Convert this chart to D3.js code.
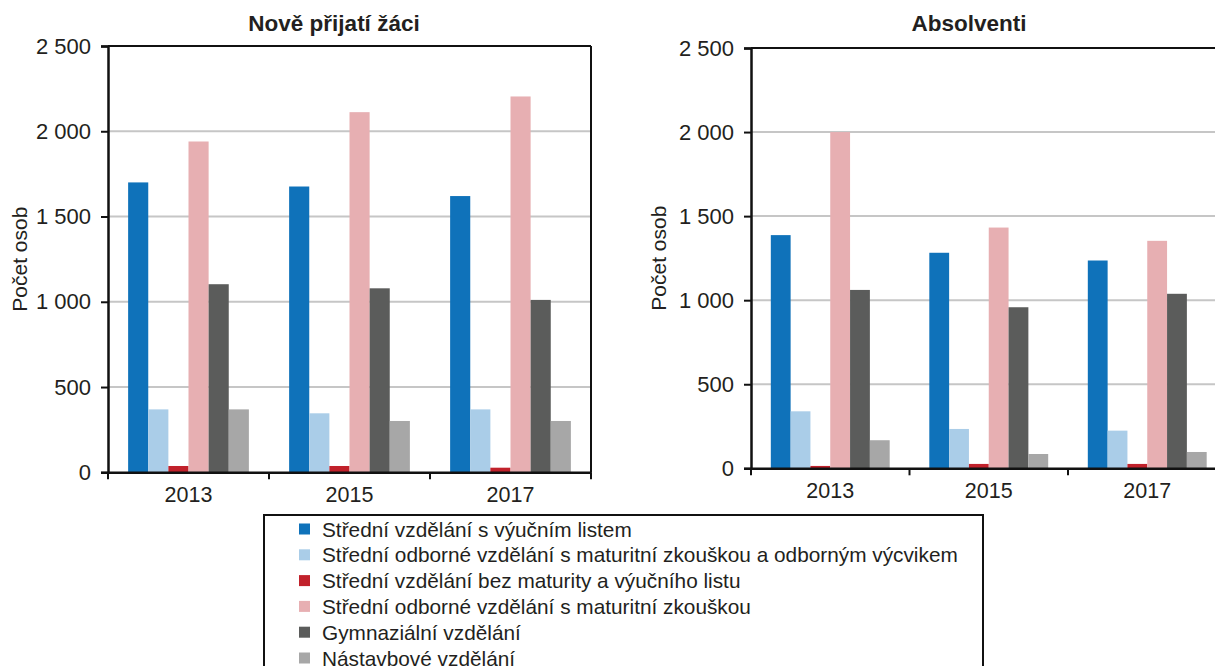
<!DOCTYPE html>
<html><head><meta charset="utf-8">
<script src="https://cdn.jsdelivr.net/npm/d3@7"></script>
<style>
html,body{margin:0;padding:0;background:#fff;overflow:hidden;}
text{font-family:"Liberation Sans",Arial,sans-serif;fill:#231f20;}
</style></head>
<body><svg id="c" width="1215" height="666"></svg>
<script>
// ---- data ----
const years = ["2013", "2015", "2017"];
const seriesNames = [
  "Střední vzdělání s výučním listem",
  "Střední odborné vzdělání s maturitní zkouškou a odborným výcvikem",
  "Střední vzdělání bez maturity a výučního listu",
  "Střední odborné vzdělání s maturitní zkouškou",
  "Gymnaziální vzdělání",
  "Nástavbové vzdělání"
];
const yTicks = [0, 500, 1000, 1500, 2000, 2500];

// Nově přijatí žáci
const prijatiVyucni      = [1700, 1676, 1620];
const prijatiOdbVycvik   = [369, 346, 369];
const prijatiBezMaturity = [37, 37, 27];
const prijatiMaturita    = [1940, 2112, 2204];
const prijatiGymnazia    = [1103, 1079, 1011];
const prijatiNastavbove  = [369, 301, 301];

// Absolventi
const absolventiVyucni      = [1387, 1282, 1236];
const absolventiOdbVycvik   = [339, 234, 224];
const absolventiBezMaturity = [14, 26, 26];
const absolventiMaturita    = [2000, 1432, 1353];
const absolventiGymnazia    = [1061, 958, 1038];
const absolventiNastavbove  = [167, 85, 97];

const colors = ["#0f72ba", "#aacde8", "#c1212b", "#e7afb2", "#5b5c5b", "#a7a7a7"];

const svg = d3.select("#c");
const loc = d3.formatLocale({decimal: ",", thousands: "\u00a0", grouping: [3], currency: ["", ""]});
const fmt = loc.format(",d");
const FONT = "Liberation Sans, Arial, sans-serif";

function chart(cfg) {
  const series = cfg.series;
  const x = d3.scaleBand().domain(years).range([cfg.x0, cfg.x1]).padding(0);
  const bw = x.bandwidth();
  const xi = d3.scaleBand().domain(d3.range(series.length)).range([bw / 8, bw * 7 / 8]).padding(0);
  const y = d3.scaleLinear().domain([0, 2500]).range([cfg.yb, cfg.yt]);
  const g = svg.append("g");

  // gridlines
  g.selectAll(".grid").data(yTicks.filter(t => t > 0 && t < 2500)).enter().append("line")
    .attr("x1", cfg.x0).attr("x2", cfg.x1)
    .attr("y1", d => y(d)).attr("y2", d => y(d))
    .attr("stroke", "#c6c6c6").attr("stroke-width", 2);

  // frame top/right
  g.append("line").attr("x1", cfg.x0).attr("x2", cfg.x1).attr("y1", cfg.yt).attr("y2", cfg.yt)
    .attr("stroke", "#111").attr("stroke-width", 2);
  g.append("line").attr("x1", cfg.x1).attr("x2", cfg.x1).attr("y1", cfg.yt).attr("y2", cfg.yb)
    .attr("stroke", "#111").attr("stroke-width", 2);

  // bars
  series.forEach((vals, si) => {
    g.selectAll(null).data(vals).enter().append("rect")
      .attr("x", (d, i) => x(years[i]) + xi(si))
      .attr("width", xi.bandwidth())
      .attr("y", d => y(d))
      .attr("height", d => y(0) - y(d))
      .attr("fill", colors[si]);
  });

  // y axis
  const ya = d3.axisLeft(y).tickValues(yTicks).tickFormat(fmt).tickSize(7).tickPadding(10);
  const yg = g.append("g").attr("transform", `translate(${cfg.x0},0)`).call(ya);
  yg.select(".domain").attr("stroke", "#111").attr("stroke-width", 2.5);
  yg.selectAll(".tick line").attr("stroke", "#111").attr("stroke-width", 2);
  yg.selectAll(".tick text").style("font-size", "22px").style("font-family", FONT).attr("fill", "#231f20");

  // x axis
  const xa = d3.axisBottom(x).tickSize(0).tickPadding(14);
  const xg = g.append("g").attr("transform", `translate(0,${cfg.yb})`).call(xa);
  xg.select(".domain").attr("stroke", "#111").attr("stroke-width", 2.5);
  xg.selectAll(".tick text").style("font-size", "21.5px").style("font-family", FONT).attr("fill", "#231f20");
  const bounds = years.map(yy => x(yy)).concat([x(years[years.length - 1]) + bw]);
  xg.selectAll(".bt").data(bounds).enter().append("line")
    .attr("x1", d => d).attr("x2", d => d).attr("y1", 0).attr("y2", 7)
    .attr("stroke", "#111").attr("stroke-width", 2);

  // title
  g.append("text").attr("x", cfg.titleX).attr("y", 31).attr("text-anchor", "middle")
    .style("font-size", "22.5px").style("font-weight", "bold").text(cfg.title);

  // y label
  g.append("text")
    .attr("transform", `translate(${cfg.labelX},${(cfg.yt + cfg.yb) / 2}) rotate(-90)`)
    .attr("text-anchor", "middle").style("font-size", "21px").text("Počet osob");
}

chart({
  title: "Nově přijatí žáci", titleX: 334, labelX: 27,
  x0: 108, x1: 591, yt: 46, yb: 472.3,
  series: [prijatiVyucni, prijatiOdbVycvik, prijatiBezMaturity, prijatiMaturita, prijatiGymnazia, prijatiNastavbove]
});
chart({
  title: "Absolventi", titleX: 969, labelX: 666,
  x0: 751, x1: 1226.5, yt: 48, yb: 468.3,
  series: [absolventiVyucni, absolventiOdbVycvik, absolventiBezMaturity, absolventiMaturita, absolventiGymnazia, absolventiNastavbove]
});

// legend
const lg = svg.append("g");
lg.append("rect").attr("x", 264).attr("y", 515).attr("width", 719).attr("height", 200)
  .attr("fill", "none").attr("stroke", "#111").attr("stroke-width", 2);
const rows = lg.selectAll(".lr").data(seriesNames).enter().append("g")
  .attr("transform", (d, i) => `translate(0,${529 + i * 25.8})`);
rows.append("rect").attr("x", 299).attr("y", -5.5).attr("width", 11).attr("height", 11)
  .attr("fill", (d, i) => colors[i]);
rows.append("text").attr("x", 322).attr("y", 7.5).style("font-size", "20.8px").text(d => d);
</script></body></html>
